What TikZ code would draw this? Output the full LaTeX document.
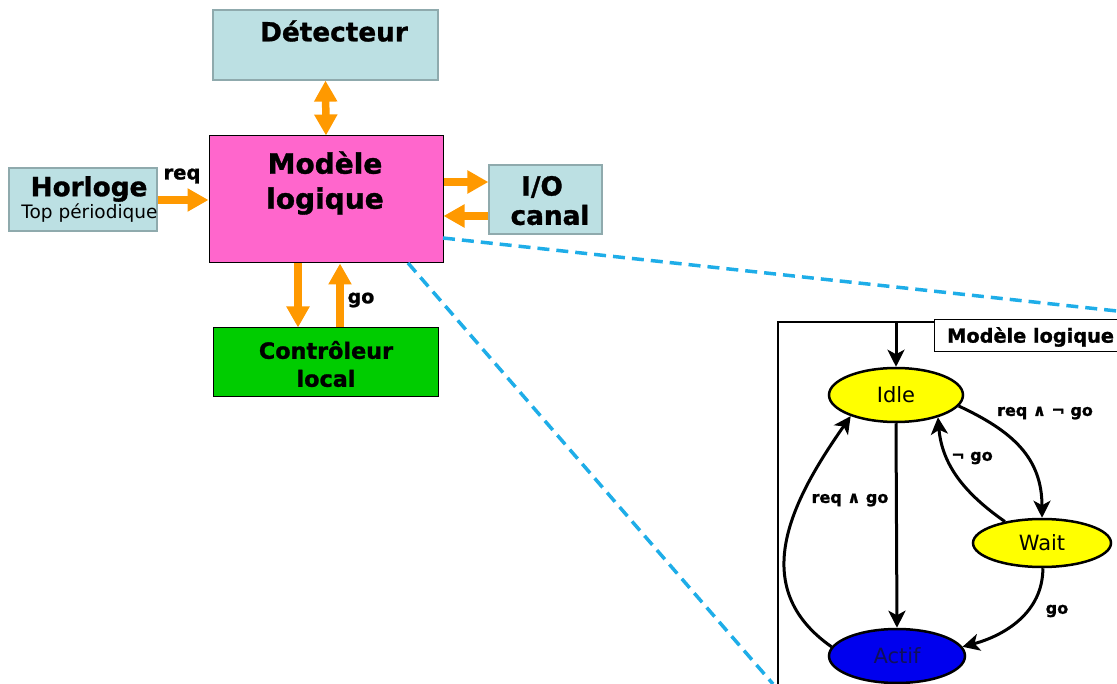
\documentclass[tikz,border=0pt]{standalone}
\usepackage{fontspec}
\setmainfont{DejaVu Sans}[BoldFeatures={FakeBold=1.2}]
\usetikzlibrary{arrows.meta,shapes.geometric}
\definecolor{boxblue}{HTML}{BCE0E3}
\definecolor{boxedge}{HTML}{8FAAAD}
\definecolor{modpink}{HTML}{FF66CC}
\definecolor{ctrlgreen}{HTML}{00CC00}
\definecolor{orangearr}{HTML}{FF9900}
\definecolor{dashblue}{HTML}{1EADE8}
\definecolor{stateyellow}{HTML}{FFFF00}
\definecolor{stateblue}{HTML}{0000EE}
\definecolor{actiftext}{HTML}{10105A}
\tikzset{
  bluebox/.style={draw=boxedge, line width=1.2pt, fill=boxblue, inner sep=0pt},
  bigtxt/.style={font=\fontsize{26.3}{30}\selectfont\bfseries, inner sep=0pt},
  oarr/.style={draw=orangearr, line width=7.5pt, -{Triangle[length=21pt,width=22pt]}},
  oarr2/.style={draw=orangearr, line width=7.5pt, {Triangle[length=21pt,width=22pt]}-{Triangle[length=21pt,width=22pt]}},
  dashline/.style={draw=dashblue, line width=3.5pt, dash pattern=on 12pt off 7pt},
  state/.style={ellipse, draw=black, line width=2.5pt, inner sep=0pt, font=\fontsize{21}{24}\selectfont},
  sarr/.style={draw=black, line width=3pt, -{Stealth[length=17pt,width=17pt,inset=4.5pt]}},
  lbl/.style={font=\fontsize{16}{18}\selectfont\bfseries, inner sep=0pt},
}
\begin{document}
\begin{tikzpicture}[x=1pt,y=-1pt]
\useasboundingbox (0,0) rectangle (1117,684);
% blocks
\node[bluebox, minimum width=225pt, minimum height=70pt] (det) at (325.5,45) {};
\node[bigtxt] (detT) at (334,31) {Détecteur};
\node[draw=black, line width=1pt, fill=modpink, minimum width=234pt, minimum height=127pt, inner sep=0pt] (mod) at (326,199.5) {};
\node[font=\fontsize{28}{35}\selectfont\bfseries, align=center, inner sep=0pt] (modT) at (325,183) {Modèle\\logique};
\node[bluebox, minimum width=148pt, minimum height=63pt] (hor) at (83,199.5) {};
\node[bigtxt] (horT) at (89,189) {Horloge};
\node[font=\fontsize{18.5}{20}\selectfont, inner sep=0pt] (horS) at (89.5,213) {Top périodique};
\node[bluebox, minimum width=113pt, minimum height=69pt] (io) at (545.5,199.5) {};
\node[bigtxt] (ioA) at (542,187) {I/O};
\node[bigtxt] (ioB) at (550,215) {canal};
\node[draw=black, line width=1pt, fill=ctrlgreen, minimum width=225pt, minimum height=69pt, inner sep=0pt] (ctl) at (325.5,362.5) {};
\node[font=\fontsize{22.3}{28}\selectfont\bfseries, align=center, inner sep=0pt] (ctlT) at (326,364) {Contrôleur\\local};
% orange arrows
\draw[oarr2] (det.south) -- (mod.north);
\draw[oarr] (hor.east |- 0,200) -- (mod.west |- 0,200);
\draw[oarr] (mod.east |- 0,182) -- (io.west |- 0,182);
\draw[oarr] (io.west |- 0,216) -- (mod.east |- 0,216);
\draw[oarr] (mod.south -| 298,0) -- (ctl.north -| 298,0);
\draw[oarr] (ctl.north -| 340,0) -- (mod.south -| 340,0);
\node[lbl, font=\fontsize{19.5}{20}\selectfont\bfseries] (reqL) at (182,176) {req};
\node[lbl, font=\fontsize{19}{20}\selectfont\bfseries] (goL) at (361,300) {go};
% dashed zoom lines
\coordinate (z1a) at (443,238);
\coordinate (z1b) at (1117,311);
\coordinate (z2a) at (408,263);
\coordinate (z2b) at (773,684);
\draw[dashline] (z1a) -- (z1b);
\draw[dashline] (z2a) -- (z2b);
% right panel
\draw[black, line width=2pt, fill=white] (778,700) -- (778,322) -- (1130,322);
\node[draw=black, line width=1pt, fill=white, minimum width=191pt, minimum height=32pt, inner sep=0pt] (panelL) at (1029.5,336) {};
\node[font=\fontsize{19.3}{22}\selectfont\bfseries, anchor=west, inner sep=0pt] (panelT) at (947,337) {Modèle logique};
\node[state, fill=stateyellow, minimum width=134pt, minimum height=54pt] (idle) at (896,395) {Idle};
\node[state, fill=stateyellow, minimum width=138pt, minimum height=48pt] (wait) at (1042,543) {Wait};
\node[state, fill=stateblue, text=actiftext, minimum width=136pt, minimum height=54pt] (actif) at (897,656) {Actif};
\coordinate (init) at (896,322);
\draw[sarr] (init) -- (idle.north);
\draw[sarr] (idle.south) -- (actif.north);
\draw[sarr] (actif.172) to[out=145,in=235,looseness=1.15] (idle.205);
\draw[sarr] (idle.-10) to[out=-25,in=90,looseness=1.1] (wait.north);
\draw[sarr] (wait.150) to[out=145,in=-85] (idle.-28);
\draw[sarr] (wait.-88) to[out=-90,in=15] (actif.8);
\node[lbl] (l1) at (1045,413) {req ∧ ¬ go};
\node[lbl] (l2) at (972,458) {¬ go};
\node[lbl] (l3) at (850,500) {req ∧ go};
\node[lbl] (l4) at (1057,611) {go};
\end{tikzpicture}
\end{document}
